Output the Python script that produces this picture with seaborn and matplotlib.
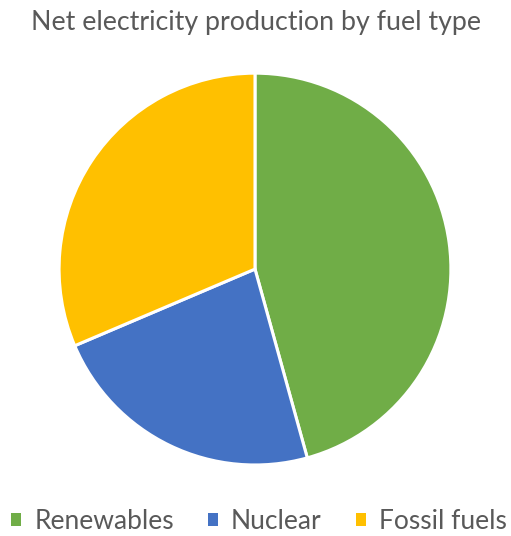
import matplotlib
matplotlib.use("Agg")
import matplotlib.pyplot as plt
from matplotlib.patches import Patch
import seaborn as sns

# Share of net electricity production by fuel type (%)
fuel_types = ["Renewables", "Nuclear", "Fossil fuels"]
shares = [45.7, 22.9, 31.4]
colors = ["#70AD47", "#4472C4", "#FFC000"]

sns.set_theme(style="white")
plt.rcParams["font.family"] = ["Lato", "DejaVu Sans"]

fig = plt.figure(figsize=(5.11, 5.36), dpi=100)
ax = fig.add_axes([0.1155, 0.1325, 0.767, 0.731])
ax.pie(shares, colors=colors, startangle=90, counterclock=False,
       wedgeprops=dict(edgecolor="white", linewidth=2.2))
ax.set_xlim(-1, 1)
ax.set_ylim(-1, 1)
ax.set_aspect("equal")
ax.axis("off")

fig.text(0.5, 0.958, "Net electricity production by fuel type",
         ha="center", va="center", fontsize=19.3, color="#595959")

handles = [Patch(facecolor=c, edgecolor="none") for c in colors]
fig.legend(handles, fuel_types, loc="center", bbox_to_anchor=(0.507, 0.027),
           ncol=3, frameon=False, fontsize=19, labelcolor="#595959",
           handlelength=0.37, handleheight=0.37, handletextpad=0.5,
           columnspacing=1.3, borderaxespad=0, borderpad=0)

fig.savefig("out.png", dpi=100, facecolor="white")
